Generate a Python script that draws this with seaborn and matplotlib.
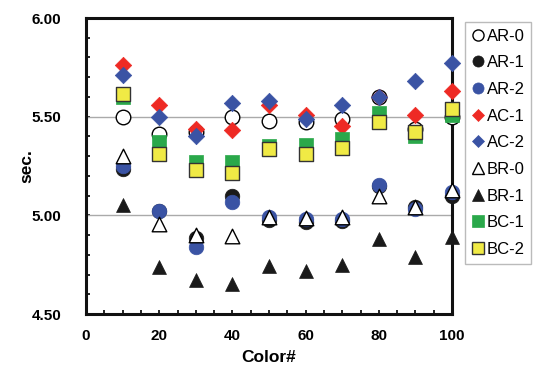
import matplotlib
matplotlib.use("Agg")
import matplotlib.pyplot as plt
import seaborn as sns
import pandas as pd
from matplotlib.ticker import MultipleLocator, FormatStrFormatter
from matplotlib.lines import Line2D

sns.set_theme(style="white")
plt.rcParams['font.family'] = ['Liberation Sans', 'DejaVu Sans']
plt.rcParams['text.color'] = 'black'
plt.rcParams['axes.labelcolor'] = 'black'
plt.rcParams['xtick.color'] = 'black'
plt.rcParams['ytick.color'] = 'black'

color_no = [10, 20, 30, 40, 50, 60, 70, 80, 90, 100]
ar0 = [5.50, 5.41, 5.42, 5.50, 5.48, 5.475, 5.49, 5.60, 5.44, 5.50]
ar1 = [5.235, 5.02, 4.885, 5.10, 4.975, 4.965, 4.97, 5.15, 5.04, 5.10]
ar2 = [5.25, 5.02, 4.84, 5.07, 4.99, 4.98, 4.98, 5.155, 5.03, 5.12]
ac1 = [5.76, 5.56, 5.44, 5.43, 5.56, 5.51, 5.455, 5.60, 5.51, 5.63]
ac2 = [5.71, 5.50, 5.40, 5.57, 5.58, 5.49, 5.56, 5.60, 5.68, 5.77]
br0 = [5.30, 4.955, 4.90, 4.895, 4.99, 4.985, 4.99, 5.10, 5.04, 5.13]
br1 = [5.05, 4.74, 4.67, 4.65, 4.745, 4.72, 4.75, 4.88, 4.79, 4.89]
bc1 = [5.60, 5.37, 5.27, 5.27, 5.35, 5.355, 5.385, 5.52, 5.40, 5.51]
bc2 = [5.615, 5.31, 5.23, 5.215, 5.335, 5.31, 5.34, 5.475, 5.42, 5.54]

series_names = ["AR-0", "AR-1", "AR-2", "AC-1", "AC-2", "BR-0", "BR-1", "BC-1", "BC-2"]
series_vals = [ar0, ar1, ar2, ac1, ac2, br0, br1, bc1, bc2]

styles = {
    "AR-0": dict(marker="o", fc="white", ec="black", s=110, lw=1.0),
    "AR-1": dict(marker="o", fc="#1a1a1a", ec="#1a1a1a", s=110, lw=0.5),
    "AR-2": dict(marker="o", fc="#3a53a4", ec="#3a53a4", s=110, lw=0.5),
    "AC-1": dict(marker="D", fc="#ee2a24", ec="#ee2a24", s=70, lw=0.5),
    "AC-2": dict(marker="D", fc="#3a53a4", ec="#3a53a4", s=70, lw=0.5),
    "BR-0": dict(marker="^", fc="white", ec="black", s=110, lw=1.0),
    "BR-1": dict(marker="^", fc="#1a1a1a", ec="#1a1a1a", s=100, lw=0.5),
    "BC-1": dict(marker="s", fc="#2aa84a", ec="#2aa84a", s=110, lw=0.5),
    "BC-2": dict(marker="s", fc="#f0ea45", ec="#333333", s=110, lw=1.0),
}

fig = plt.figure(figsize=(5.35, 3.70), dpi=100)
ax = fig.add_axes([86/535, 1 - 314/370, (452-86)/535, (314-18)/370])

for i, (name, vals) in enumerate(zip(series_names, series_vals)):
    st = styles[name]
    df = pd.DataFrame({"x": color_no, "y": vals})
    sns.scatterplot(data=df, x="x", y="y", ax=ax, marker=st["marker"], s=st["s"],
                    color=st["fc"], edgecolor=st["ec"], linewidth=st["lw"],
                    label=name, zorder=3 + i, legend=False, clip_on=False)

ax.set_xlim(0, 100)
ax.set_ylim(4.5, 6.0)
ax.xaxis.set_major_locator(MultipleLocator(20))
ax.xaxis.set_minor_locator(MultipleLocator(5))
ax.yaxis.set_major_locator(MultipleLocator(0.5))
ax.yaxis.set_minor_locator(MultipleLocator(0.1))
ax.yaxis.set_major_formatter(FormatStrFormatter("%.2f"))
ax.tick_params(axis="both", which="both", direction="in", length=3, width=1.2,
               color="black", labelcolor="black", bottom=True, left=True, labelsize=11)
ax.tick_params(axis="y", which="major", pad=18)
ax.tick_params(axis="x", which="major", pad=11)
for lab in ax.get_xticklabels() + ax.get_yticklabels():
    lab.set_fontweight("bold")
for yv in [5.0, 5.5]:
    ax.axhline(yv, color="#aaaaaa", lw=1.0, zorder=1)
for sp in ax.spines.values():
    sp.set_linewidth(2.2)
    sp.set_color("#111111")
ax.set_xlabel("Color#", fontsize=12.5, fontweight="bold", labelpad=5, color="black")
ax.set_ylabel("sec.", fontsize=12.5, fontweight="bold", labelpad=-2, color="black")

handles = []
for name in series_names:
    st = styles[name]
    handles.append(Line2D([], [], linestyle="none", marker=st["marker"],
                          markerfacecolor=st["fc"], markeredgecolor=st["ec"],
                          markersize=8 if st["marker"] != "D" else 6.5,
                          markeredgewidth=st["lw"], label=name))
leg = fig.legend(handles=handles, loc="upper left", bbox_to_anchor=(465/535, 1 - 22/370),
                 frameon=True, fancybox=False, fontsize=12, handlelength=0.8,
                 handletextpad=0.1, labelspacing=0.7, borderpad=0.4, borderaxespad=0,
                 labelcolor="black")
leg.get_frame().set_edgecolor("#aaaaaa")
leg.get_frame().set_linewidth(1.0)

fig.savefig("out.png", dpi=100)
